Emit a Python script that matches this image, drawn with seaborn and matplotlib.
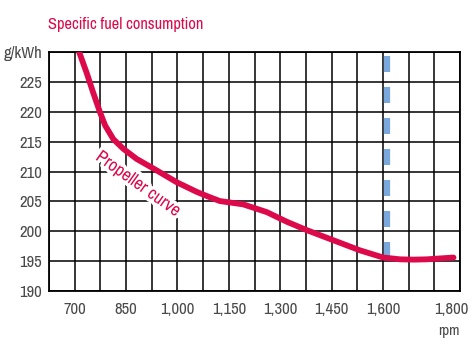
import matplotlib
matplotlib.use("Agg")
import matplotlib.pyplot as plt
import matplotlib.patheffects as pe
import seaborn as sns
import pandas as pd
import numpy as np

rpm = [713, 735, 754, 774, 789, 813, 842, 881, 939, 998, 1056, 1090, 1124, 1192, 1261, 1319, 1377, 1455, 1533, 1601, 1650, 1690, 1728, 1806]
sfc = [230.0, 226.5, 223.2, 219.9, 217.7, 215.4, 213.8, 212.1, 210.2, 208.2, 206.6, 205.8, 205.05, 204.5, 203.2, 201.6, 200.2, 198.5, 196.8, 195.6, 195.3, 195.25, 195.3, 195.6]
x_ticks = [700, 850, 1000, 1150, 1300, 1450, 1600, 1800]
x_tick_labels = ["700", "850", "1,000", "1,150", "1,300", "1,450", "1,600", "1,800"]
y_ticks = [190, 195, 200, 205, 210, 215, 220, 225, 230]
y_tick_labels = ["190", "195", "200", "205", "210", "215", "220", "225", "g/kWh"]
rated_rpm = 1612
rated_top = 229.3
rated_bottom = 195.65
title = "Specific fuel consumption"
curve_label = "Propeller curve"

sns.set_style("white")
FONT = ["Archivo Narrow", "DejaVu Sans"]
plt.rcParams["font.family"] = FONT

RED = "#DC0A4B"
GRAY = "#4A4A4A"

fig = plt.figure(figsize=(4.75, 3.49), dpi=100)
ax = fig.add_axes([49/475, 1-291/349, (460-49)/475, (291-52)/349])

df = pd.DataFrame({"rpm": rpm, "sfc": sfc})
sns.lineplot(data=df, x="rpm", y="sfc", ax=ax, color=RED, lw=4.2, zorder=5,
             solid_capstyle="round", solid_joinstyle="round", sort=False)

ax.plot([rated_rpm, rated_rpm], [rated_top, rated_bottom], color="#78A8DC", lw=4.5,
        dashes=(2.56, 2.4), dash_capstyle="butt", zorder=4)

ax.set_xlim(625, 1825)
ax.set_ylim(190, 230)
ax.xaxis.remove_overlapping_locs = False
ax.yaxis.remove_overlapping_locs = False
ax.set_xticks(np.arange(625, 1826, 75), minor=True)
ax.set_yticks(np.arange(190, 231, 5), minor=True)
ax.set_xticks(x_ticks)
ax.set_xticklabels(x_tick_labels)
ax.set_yticks(y_ticks)
ax.set_yticklabels(y_tick_labels)
ax.grid(True, which="minor", color="black", lw=1.1)
ax.grid(False, which="major")
ax.tick_params(axis="both", which="both", length=0, labelsize=12, labelcolor=GRAY)
ax.tick_params(axis="y", pad=5)
ax.tick_params(axis="x", pad=8)
for s in ax.spines.values():
    s.set_color("black"); s.set_linewidth(1.3); s.set_visible(True)
ax.set_xlabel(""); ax.set_ylabel("")

ax.text(886, 207.9, curve_label, rotation=-35.5, color=RED, fontsize=13,
        ha="center", va="center", rotation_mode="anchor", zorder=4.5,
        path_effects=[pe.withStroke(linewidth=5, foreground="white")])
fig.text(48/475, 1-25/349, title, color=RED, fontsize=11.8, ha="left", va="center")
fig.text(460/475, 1-331/349, "rpm", color=GRAY, fontsize=11, ha="right", va="center")

fig.savefig("out.png", dpi=100)
